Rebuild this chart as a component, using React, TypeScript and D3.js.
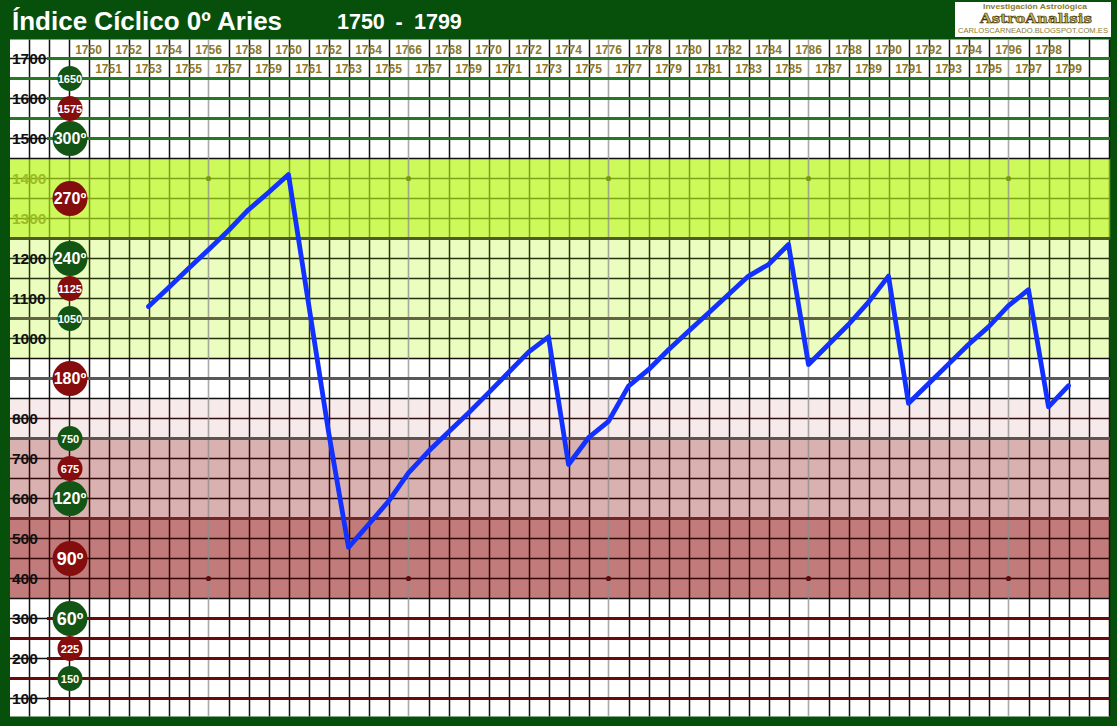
import React from 'react';
import * as d3 from 'd3';

// ---------- data ----------
const YEARS = [
  1753, 1754, 1755, 1756, 1757, 1758, 1759, 1760, 1761, 1762,
  1763, 1764, 1765, 1766, 1767, 1768, 1769, 1770, 1771, 1772,
  1773, 1774, 1775, 1776, 1777, 1778, 1779, 1780, 1781, 1782,
  1783, 1784, 1785, 1786, 1787, 1788, 1789, 1790, 1791, 1792,
  1793, 1794, 1795, 1796, 1797, 1798, 1799,
];
const INDEX_VALUES = [
  1080, 1127, 1175, 1222, 1270, 1322, 1365, 1410, 1088, 767,
  478, 535, 593, 664, 718, 766, 814, 864, 915, 966,
  1004, 685, 752, 793, 881, 922, 972, 1018, 1064, 1110,
  1156, 1185, 1235, 935, 985, 1035, 1091, 1156, 838, 887,
  936, 985, 1029, 1082, 1122, 829, 882,
];
const EVEN_YEAR_LABELS = [
  1750, 1752, 1754, 1756, 1758, 1760, 1762, 1764, 1766, 1768, 1770, 1772, 1774,
  1776, 1778, 1780, 1782, 1784, 1786, 1788, 1790, 1792, 1794, 1796, 1798,
];
const ODD_YEAR_LABELS = [
  1751, 1753, 1755, 1757, 1759, 1761, 1763, 1765, 1767, 1769, 1771, 1773, 1775,
  1777, 1779, 1781, 1783, 1785, 1787, 1789, 1791, 1793, 1795, 1797, 1799,
];
const AXIS_TICKS = [1700, 1600, 1500, 1400, 1300, 1200, 1100, 1000, 800, 700, 600, 500, 400, 300, 200, 100];
const OLIVE_TICKS = [1400, 1300];
const MARKERS = [
  { value: 1650, label: '1650', tone: 'green', big: false },
  { value: 1575, label: '1575', tone: 'red', big: false },
  { value: 1500, label: '300º', tone: 'green', big: true },
  { value: 1350, label: '270º', tone: 'red', big: true },
  { value: 1200, label: '240º', tone: 'green', big: true },
  { value: 1125, label: '1125', tone: 'red', big: false },
  { value: 1050, label: '1050', tone: 'green', big: false },
  { value: 900, label: '180º', tone: 'red', big: true },
  { value: 750, label: '750', tone: 'green', big: false },
  { value: 675, label: '675', tone: 'red', big: false },
  { value: 600, label: '120º', tone: 'green', big: true },
  { value: 450, label: '90º', tone: 'red', big: true },
  { value: 300, label: '60º', tone: 'green', big: true },
  { value: 225, label: '225', tone: 'red', big: false },
  { value: 150, label: '150', tone: 'green', big: false },
];
const BANDS = [
  { top: 1450, bottom: 1250, fill: '#cdf95b', grid: '#7ea21a' },
  { top: 1250, bottom: 950, fill: '#ebfdbf', grid: '#27340f' },
  { top: 850, bottom: 750, fill: '#f6eaea', grid: '#301010' },
  { top: 750, bottom: 550, fill: '#d9b1b1', grid: '#330a0a' },
  { top: 550, bottom: 350, fill: '#c17b7b', grid: '#330606' },
];
const GREEN_RULES = [1700, 1650, 1600, 1550, 1500];
const BAND_RULES = [
  { value: 1250, color: '#4e5b22' },
  { value: 1050, color: '#5f6444' },
  { value: 900, color: '#585858' },
  { value: 750, color: '#5c5252' },
  { value: 550, color: '#6e2626' },
];
const MAROON_RULES = [300, 250, 200, 150, 100];
const DECADE_YEARS = [1756, 1766, 1776, 1786, 1796];
const DOT_ROWS = [
  { value: 1400, color: '#7a9a14' },
  { value: 400, color: '#5c0c0c' },
];

// ---------- layout ----------
const W = 1117;
const H = 726;
const PL = 10;
const PR = 1110;
const PT = 39.5;
const PB = 716.5;
const FRAME = '#07500b';
const GREEN = '#135514';
const RED = '#860d0d';
const GOLD = '#8b7a2b';
const FONT = 'Liberation Sans, Arial, Helvetica, sans-serif';

const x = d3.scaleLinear().domain([1750, 1799]).range([88.5, 1068.5]);
const y = d3.scaleLinear().domain([1000, 1700]).range([338.5, 58.5]);

export default function App() {
  const series = YEARS.map((yr, i) => ({ year: yr, value: INDEX_VALUES[i] }));
  const line = d3
    .line<{ year: number; value: number }>()
    .x((d) => x(d.year))
    .y((d) => y(d.value));

  const decadeX = DECADE_YEARS.map((d) => x(d));
  const gridX = d3.range(29.5, PR, 20).filter((gx) => !decadeX.some((dx) => Math.abs(dx - gx) < 3));
  const gridValues = d3.range(100, 1701, 50);

  const segs = [
    { y0: PT, y1: y(1450), c: '#111111' },
    ...BANDS.map((b) => ({ y0: y(b.top), y1: y(b.bottom), c: b.grid })),
    { y0: y(950), y1: y(850), c: '#111111' },
    { y0: y(350), y1: PB, c: '#111111' },
  ];

  const hColor = (v: number) => {
    const b = BANDS.find((bb) => v < bb.top && v > bb.bottom);
    return b ? b.grid : '#111111';
  };
  const ruleStart = (v: number) => (AXIS_TICKS.includes(v) ? 47 : PL);

  return (
    <svg
      width={W}
      height={H}
      viewBox={`0 0 ${W} ${H}`}
      style={{ position: 'absolute', left: 0, top: 0, display: 'block' }}
      fontFamily={FONT}
    >
      <rect x={0} y={0} width={W} height={H} fill={FRAME} />
      <rect x={PL} y={PT} width={PR - PL} height={PB - PT} fill="#ffffff" />

      {BANDS.map((b, i) => (
        <rect key={'band' + i} x={PL} y={y(b.top)} width={PR - PL} height={y(b.bottom) - y(b.top)} fill={b.fill} />
      ))}

      {/* grid */}
      <g>
        {segs.map((s, si) =>
          gridX.map((gx) => (
            <line key={`v${si}-${gx}`} x1={gx} x2={gx} y1={s.y0} y2={s.y1} stroke={s.c} strokeWidth={1.5} />
          ))
        )}
        {gridValues.map((v) => (
          <line key={'h' + v} x1={PL} x2={PR} y1={y(v)} y2={y(v)} stroke={hColor(v)} strokeWidth={1.5} />
        ))}
      </g>

      {/* decade lines */}
      {decadeX.map((dx, i) => (
        <line key={'dec' + i} x1={dx} x2={dx} y1={PT} y2={PB} stroke="#8c8c8c" strokeOpacity={0.75} strokeWidth={1.6} />
      ))}

      {/* thick rules */}
      {GREEN_RULES.map((v) => (
        <line key={'gr' + v} x1={ruleStart(v)} x2={PR} y1={y(v)} y2={y(v)} stroke="#237a22" strokeWidth={3} />
      ))}
      {BAND_RULES.map((r) => (
        <line key={'br' + r.value} x1={PL} x2={PR} y1={y(r.value)} y2={y(r.value)} stroke={r.color} strokeWidth={3} />
      ))}
      {MAROON_RULES.map((v) => (
        <line key={'mr' + v} x1={ruleStart(v)} x2={PR} y1={y(v)} y2={y(v)} stroke="#6a0b0b" strokeWidth={3} />
      ))}

      {/* dots */}
      {DOT_ROWS.map((r) =>
        DECADE_YEARS.map((yr) => <circle key={`dot${r.value}-${yr}`} cx={x(yr)} cy={y(r.value)} r={2.6} fill={r.color} />)
      )}

      {/* year labels */}
      {EVEN_YEAR_LABELS.map((yr) => (
        <text key={'ey' + yr} x={x(yr)} y={53.5} textAnchor="middle" fontSize={12} fontWeight="bold" fill={GOLD}>
          {yr}
        </text>
      ))}
      {ODD_YEAR_LABELS.map((yr) => (
        <text key={'oy' + yr} x={x(yr)} y={73} textAnchor="middle" fontSize={12} fontWeight="bold" fill={GOLD}>
          {yr}
        </text>
      ))}

      {/* left axis labels */}
      {AXIS_TICKS.map((v) => (
        <text
          key={'ax' + v}
          x={12}
          y={y(v) + 5.5}
          fontSize={15.5}
          fontWeight="bold"
          fill={OLIVE_TICKS.includes(v) ? '#9cbc24' : '#111111'}
        >
          {v}
        </text>
      ))}

      {/* degree markers */}
      {MARKERS.map((m) => (
        <g key={'mk' + m.value}>
          <circle cx={70} cy={y(m.value)} r={m.big ? 17.5 : 12.5} fill={m.tone === 'green' ? GREEN : RED} />
          <text
            x={70}
            y={y(m.value) + (m.big ? (m.label.length <= 3 ? 6.5 : 5.8) : 4)}
            textAnchor="middle"
            fontSize={m.big ? (m.label.length <= 3 ? 18 : 16) : 11}
            fontWeight="bold"
            fill="#ffffff"
          >
            {m.label}
          </text>
        </g>
      ))}

      {/* index line */}
      <path
        d={line(series) || ''}
        fill="none"
        stroke="#1230ff"
        strokeWidth={4.8}
        strokeLinejoin="round"
        strokeLinecap="round"
      />

      {/* title */}
      <text x={12} y={30} fontSize={26} fontWeight="bold" fill="#ffffff">
        Índice Cíclico 0º Aries
      </text>
      <text x={337} y={29} fontSize={21.5} fontWeight="bold" fill="#ffffff">
        {EVEN_YEAR_LABELS[0]}
      </text>
      <text x={399} y={29} textAnchor="middle" fontSize={21.5} fontWeight="bold" fill="#ffffff">
        -
      </text>
      <text x={414} y={29} fontSize={21.5} fontWeight="bold" fill="#ffffff">
        {ODD_YEAR_LABELS[ODD_YEAR_LABELS.length - 1]}
      </text>

      {/* logo */}
      <rect x={955} y={2} width={156} height={35} fill="#ffffff" />
      <text x={1035} y={9} textAnchor="middle" fontSize={7.8} fontWeight="bold" fill="#8c7b2e" textLength={104} lengthAdjust="spacingAndGlyphs">
        Investigación Astrológica
      </text>
      <text
        x={1036}
        y={22.5}
        textAnchor="middle"
        fontSize={13.5}
        fontWeight="bold"
        fontFamily="DejaVu Serif, serif"
        fill="#c9b24e"
        stroke="#3a3212"
        strokeWidth={0.6}
        textLength={112}
        lengthAdjust="spacingAndGlyphs"
      >
        AstroAnalisis
      </text>
      <text x={1033} y={33} textAnchor="middle" fontSize={7.6} fill="#8c7b2e" textLength={150} lengthAdjust="spacingAndGlyphs">
        CARLOSCARNEADO.BLOGSPOT.COM.ES
      </text>
    </svg>
  );
}
